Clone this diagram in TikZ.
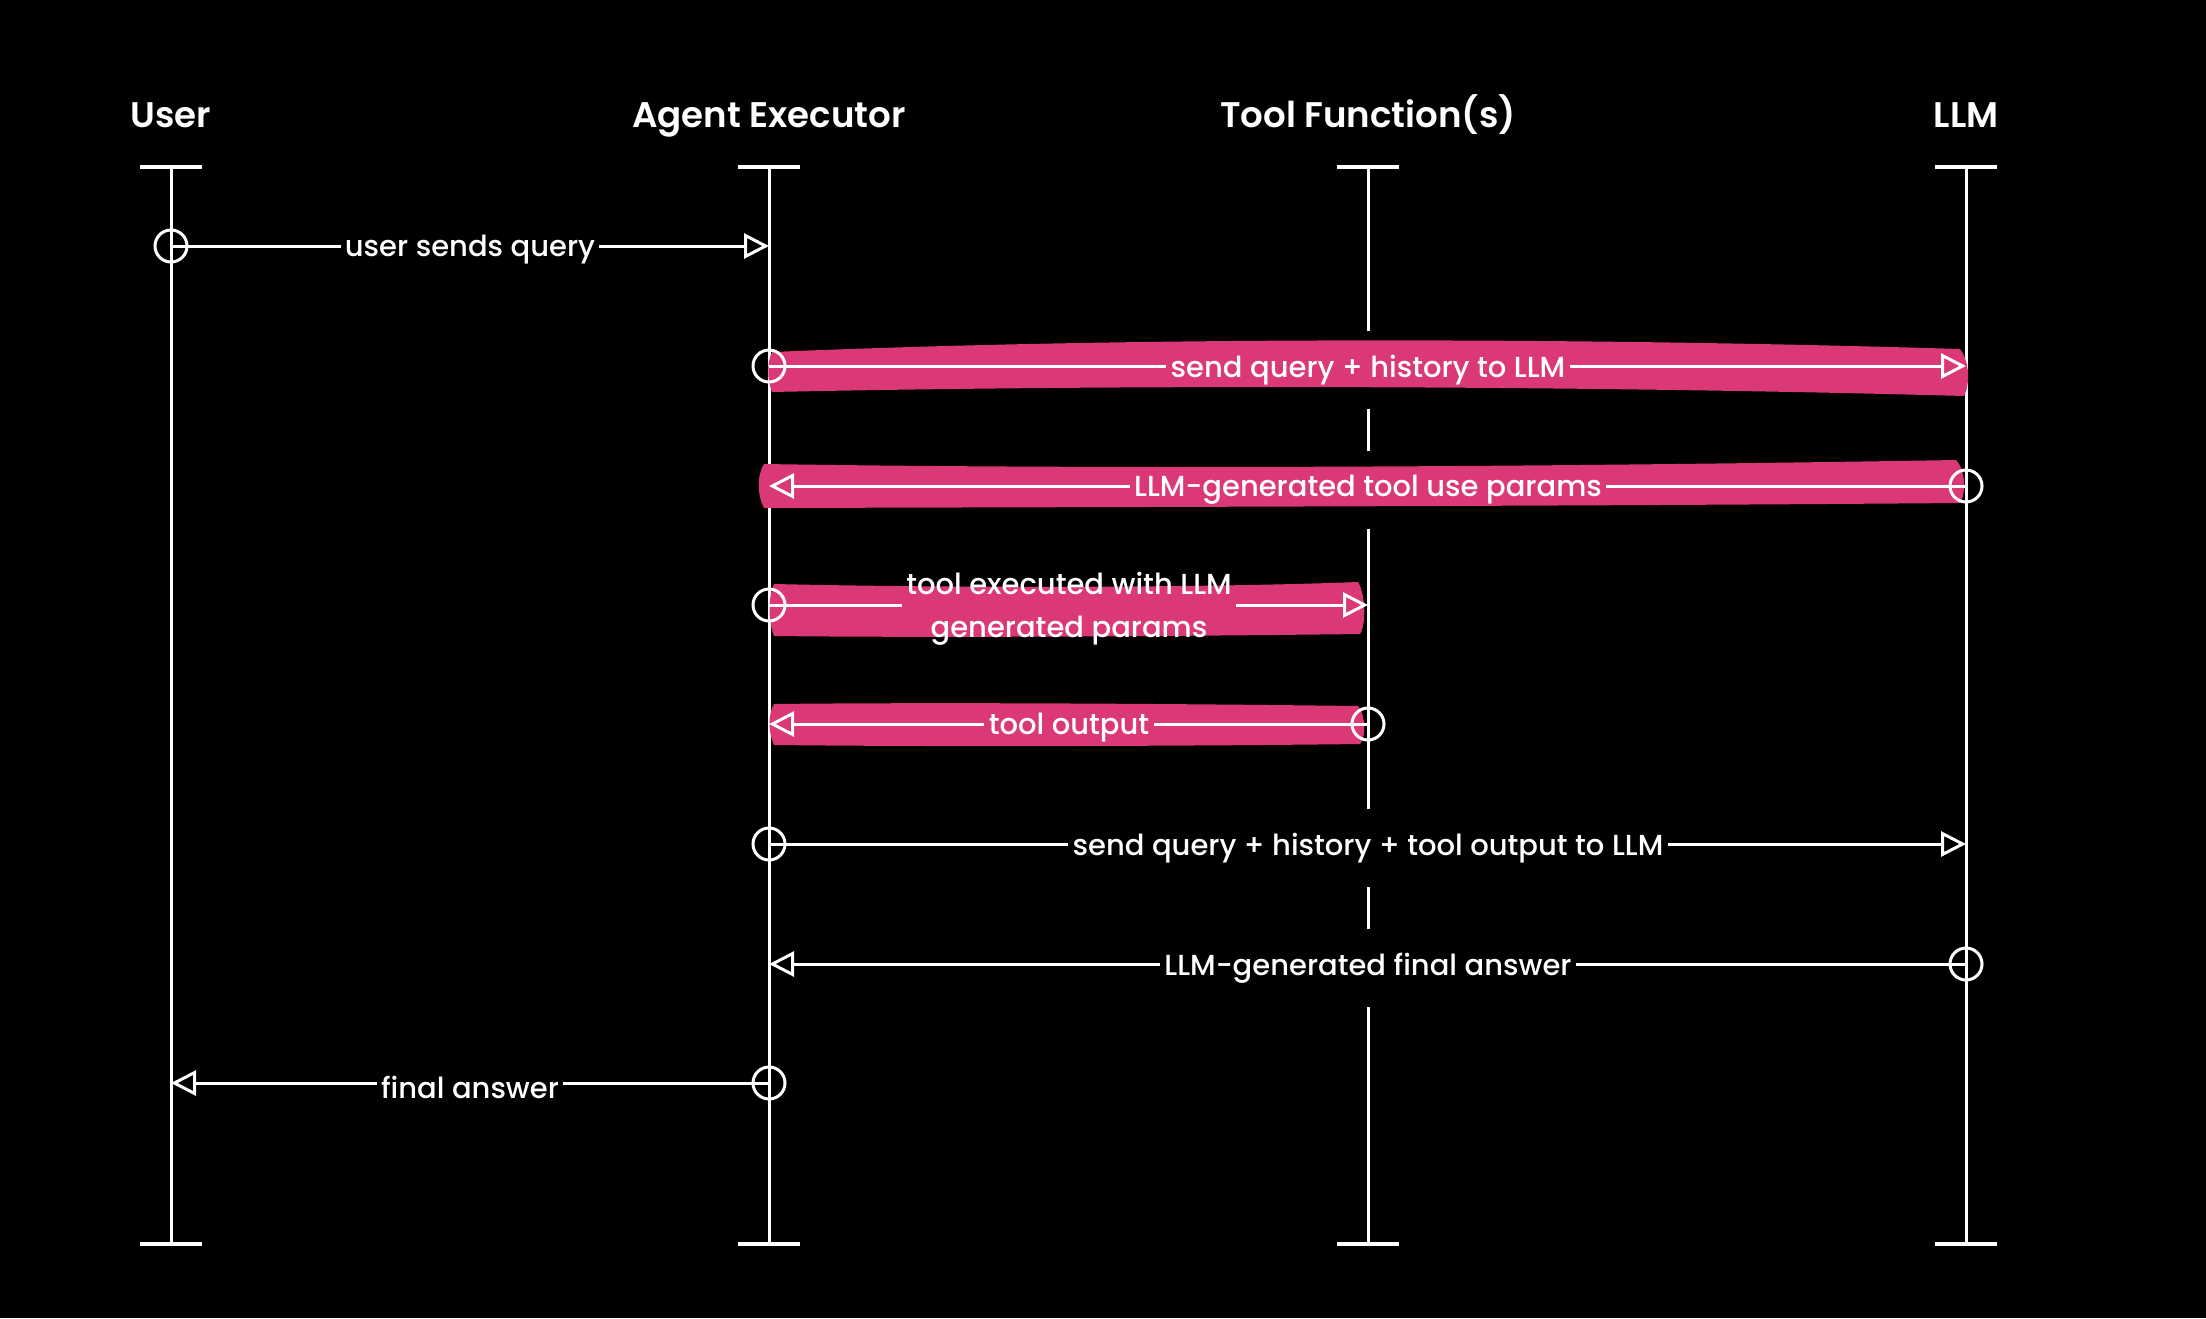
\documentclass[tikz,border=0pt]{standalone}
\usepackage{fontspec}
\setmainfont{Poppins}
\newfontfamily\hdrfont{Poppins SemiBold}
\newfontfamily\msgfont{Poppins Medium}
\usetikzlibrary{arrows.meta}
\definecolor{pinkc}{RGB}{218,56,118}
\pgfdeclarelayer{bglayer}
\pgfdeclarelayer{lifelayer}
\pgfdeclarelayer{masklayer}
\pgfdeclarelayer{pinklayer}
\pgfsetlayers{bglayer,lifelayer,masklayer,pinklayer,main}
\begin{document}
\begin{tikzpicture}[x=0.5pt,y=-0.5pt,
  life/.style={draw=white, line width=1.5pt},
  barline/.style={draw=white, line width=2.1pt},
  hdr/.style={text=white, font=\hdrfont\fontsize{17.8}{21}\selectfont, inner sep=0pt, anchor=base},
  msg/.style={text=white, font=\msgfont\fontsize{14.5}{21.5}\selectfont, inner sep=2pt, align=center, yshift=-2pt},
  startc/.style={circle, draw=white, line width=1.5pt, minimum size=16pt, inner sep=0pt},
  seg/.style={draw=white, line width=1.5pt},
  arr/.style={draw=white, line width=1.5pt, -{Triangle[open, length=12.5pt, width=12.5pt]}},
  hl/.style={fill=pinkc},
  maskbox/.style={fill=black}
]
\begin{pgfonlayer}{bglayer}
\fill[black] (0,0) rectangle (2206,1318);
\end{pgfonlayer}
\useasboundingbox (0,0) rectangle (2206,1318);

% headers
\node[hdr] (hU) at (171,127) {User};
\node[hdr] (hA) at (769,127) {Agent Executor};
\node[hdr] (hT) at (1368,127) {Tool Function(s)};
\node[hdr] (hL) at (1966,127) {LLM};

% lifelines
\coordinate (Ut) at (171,167); \coordinate (Ub) at (171,1244);
\coordinate (At) at (769,167); \coordinate (Ab) at (769,1244);
\coordinate (Tt) at (1368,167); \coordinate (Tb) at (1368,1244);
\coordinate (Lt) at (1966,167); \coordinate (Lb) at (1966,1244);
\begin{pgfonlayer}{lifelayer}
\foreach \p in {U,A,T,L}{
  \draw[life] (\p t) -- (\p b);
  \draw[barline] ([xshift=-15.5pt]\p t) -- ([xshift=15.5pt]\p t);
  \draw[barline] ([xshift=-15.5pt]\p b) -- ([xshift=15.5pt]\p b);
}
\end{pgfonlayer}

% highlights
\begin{pgfonlayer}{pinklayer}
\fill[hl] (772,352) .. controls (1150,336) and (1600,338) .. (1960,349)
  .. controls (1970,362) and (1970,385) .. (1964,396)
  .. controls (1600,386) and (1150,384) .. (772,392)
  .. controls (767,380) and (767,362) .. (772,352) -- cycle;
\fill[hl] (764,464) .. controls (1150,470) and (1600,466) .. (1956,460)
  .. controls (1966,470) and (1966,495) .. (1960,503)
  .. controls (1600,506) and (1150,507) .. (764,508)
  .. controls (757,495) and (757,475) .. (764,464) -- cycle;
\fill[hl] (774,584) .. controls (950,588) and (1200,588) .. (1358,582)
  .. controls (1366,595) and (1366,625) .. (1360,634)
  .. controls (1200,636) and (950,638) .. (774,636)
  .. controls (768,620) and (768,598) .. (774,584) -- cycle;
\fill[hl] (774,704) .. controls (950,702) and (1200,704) .. (1358,706)
  .. controls (1366,715) and (1366,738) .. (1360,744)
  .. controls (1200,746) and (950,747) .. (774,745)
  .. controls (768,732) and (768,714) .. (774,704) -- cycle;
\end{pgfonlayer}

% message 1
\node[startc] (s1) at (171,246) {};
\node[msg] (m1) at (470,246) {user sends query};
\coordinate (e1) at (769,246);
\draw[seg] (s1.center) -- (m1.west |- s1.center);
\draw[arr] (m1.east |- s1.center) -- (e1);

% message 2
\node[startc] (s2) at (769,366) {};
\node[msg] (m2) at (1368,366) {send query + history to LLM};
\coordinate (e2) at (1966,366);
\draw[seg] (s2.center) -- (m2.west |- s2.center);
\draw[arr] (m2.east |- s2.center) -- (e2);

% message 3
\node[startc] (s3) at (1966,486) {};
\node[msg] (m3) at (1368,486) {LLM-generated tool use params};
\coordinate (e3) at (769,486);
\draw[seg] (s3.center) -- (m3.east |- s3.center);
\draw[arr] (m3.west |- s3.center) -- (e3);

% message 4
\node[startc] (s4) at (769,605) {};
\node[msg] (m4) at (1069,605) {tool executed with LLM\\generated params};
\coordinate (e4) at (1368,605);
\draw[seg] (s4.center) -- (m4.west |- s4.center);
\draw[arr] (m4.east |- s4.center) -- (e4);

% message 5
\node[startc] (s5) at (1368,724) {};
\node[msg] (m5) at (1069,724) {tool output};
\coordinate (e5) at (769,724);
\draw[seg] (s5.center) -- (m5.east |- s5.center);
\draw[arr] (m5.west |- s5.center) -- (e5);

% message 6
\node[startc] (s6) at (769,844) {};
\node[msg] (m6) at (1368,844) {send query + history + tool output to LLM};
\coordinate (e6) at (1966,844);
\draw[seg] (s6.center) -- (m6.west |- s6.center);
\draw[arr] (m6.east |- s6.center) -- (e6);

% message 7
\node[startc] (s7) at (1966,964) {};
\node[msg] (m7) at (1368,964) {LLM-generated final answer};
\coordinate (e7) at (769,964);
\draw[seg] (s7.center) -- (m7.east |- s7.center);
\draw[arr] (m7.west |- s7.center) -- (e7);

% message 8
\node[startc] (s8) at (769,1083) {};
\node[msg] (m8) at (470,1083) {final answer};
\coordinate (e8) at (171,1083);
\draw[seg] (s8.center) -- (m8.east |- s8.center);
\draw[arr] (m8.west |- s8.center) -- (e8);

% label backgrounds hiding the tool lifeline
\begin{pgfonlayer}{masklayer}
\foreach \m in {m2,m3,m6,m7}{
  \fill[maskbox] ([yshift=19.5pt]\m.west) rectangle ([yshift=-19.5pt]\m.east);
}
\end{pgfonlayer}
\end{tikzpicture}
\end{document}
